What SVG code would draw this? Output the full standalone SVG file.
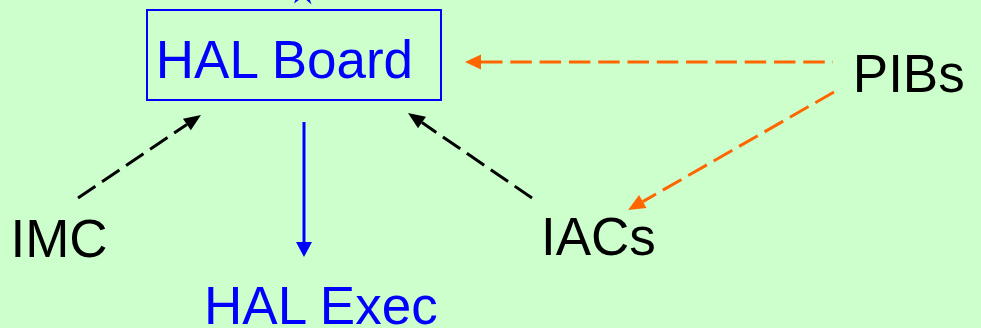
<svg xmlns="http://www.w3.org/2000/svg" width="981" height="328" viewBox="0 0 981 328">
<style>
.lbl{font-family:"Liberation Sans",Arial,sans-serif;font-size:53px}
.blue{fill:#0000FF}
.black{fill:#000000}
.dashK{stroke:#000000;stroke-width:3;fill:none;stroke-dasharray:21 8}
.dashO{stroke:#FF6600;stroke-width:3;fill:none;stroke-dasharray:21.5 7.8}
.solidB{stroke:#0000FF;stroke-width:3;fill:none}
</style>
<defs>
<marker id="ahK" markerUnits="userSpaceOnUse" markerWidth="20" markerHeight="16" refX="0" refY="0" orient="auto" overflow="visible"><path d="M0,-7 L17,0 L0,7 Z" fill="#000000"/></marker>
<marker id="ahO" markerUnits="userSpaceOnUse" markerWidth="20" markerHeight="16" refX="0" refY="0" orient="auto" overflow="visible"><path d="M0,-7.5 L17,0 L0,7.5 Z" fill="#FF6600"/></marker>
<marker id="ahOs" markerUnits="userSpaceOnUse" markerWidth="20" markerHeight="16" refX="0" refY="0" orient="auto-start-reverse" overflow="visible"><path d="M0,-7.5 L16,0 L0,7.5 Z" fill="#FF6600"/></marker>
<marker id="ahB" markerUnits="userSpaceOnUse" markerWidth="20" markerHeight="18" refX="0" refY="0" orient="auto" overflow="visible"><path d="M0,-8 L15,0 L0,8 Z" fill="#0000FF"/></marker>
</defs>
<rect x="0" y="0" width="981" height="328" fill="#CCFFCC"/>
<g id="connectors">
<path class="dashK" d="M78,198 L186.9,124.5" marker-end="url(#ahK)"/>
<path class="dashK" d="M532,198 L422,122.6" marker-end="url(#ahK)"/>
<path class="dashO" d="M481,62 L833,62" marker-start="url(#ahOs)"/>
<path class="dashO" d="M834,92 L642.8,201.6" marker-end="url(#ahO)"/>
<path class="solidB" d="M304,122 L304,242" marker-end="url(#ahB)"/>
<path d="M294,3.5 L303,-20 L311.5,4.5 L303,-3 Z" fill="#0000FF"/>
</g>
<g id="hal-board">
<rect x="147" y="10" width="294" height="90" fill="none" stroke="#0000FF" stroke-width="2"/>
<text class="lbl blue" x="155.8" y="77.5">HAL Board</text>
</g>
<g id="imc"><text class="lbl black" x="10.5" y="257">IMC</text></g>
<g id="hal-exec"><text class="lbl blue" x="204" y="324">HAL Exec</text></g>
<g id="iacs"><text class="lbl black" x="541" y="255">IACs</text></g>
<g id="pibs"><text class="lbl black" x="852.8" y="92">PIBs</text></g>
</svg>
